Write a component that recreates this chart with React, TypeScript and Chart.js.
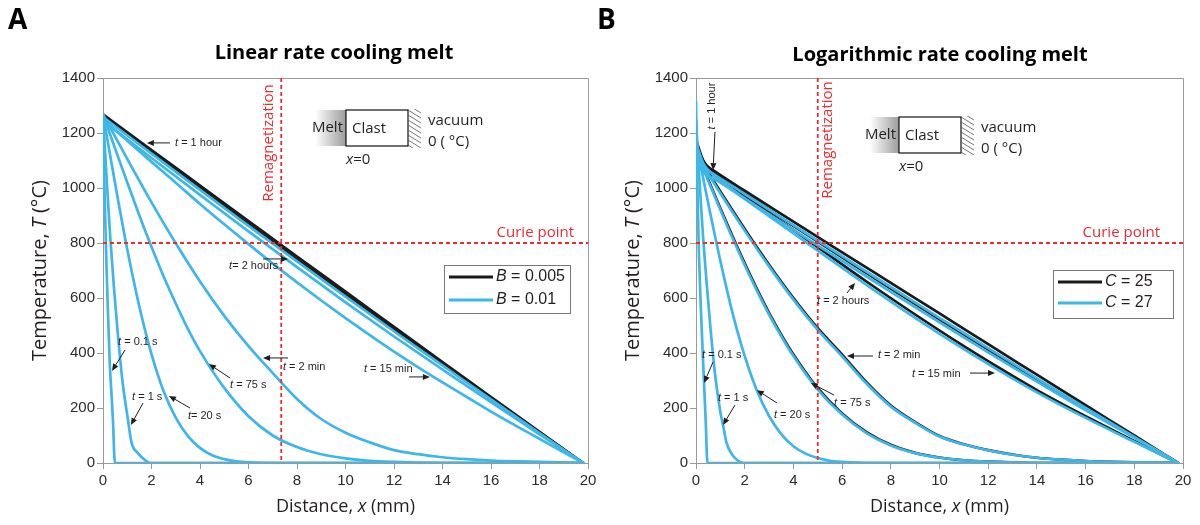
import React, { useEffect, useRef } from "react";
import { Chart, registerables } from "chart.js";

Chart.register(...registerables);

const BLUE = "#3fb6e8";
const BLACK = "#1a1a1a";
const RED = "#ee2b2f";
const AXIS_GRAY = "#9a9a9a";
const TICK_COLOR = "#2b2b2b";
const TEXT = "#231f20";
const SANS = '"Open Sans", "Noto Sans", sans-serif';
const ARIAL = '"Liberation Sans", Arial, sans-serif';

const xTickValues = [0, 2, 4, 6, 8, 10, 12, 14, 16, 18, 20];
const yTickValues = [0, 200, 400, 600, 800, 1000, 1200, 1400];

// ---------------- Panel A: linear rate cooling melt ----------------
// blue: B = 0.01
const A_x_01s = [0, 0.05, 0.1, 0.15, 0.2, 0.28, 0.35, 0.41, 0.49, 19.8];
const A_T_01s = [1268, 1040, 860, 700, 560, 360, 250, 155, 0, 0];
const A_x_1s = [0, 0.1, 0.2, 0.3, 0.45, 0.6, 0.8, 1.03, 1.18, 1.44, 1.73, 1.94, 19.8];
const A_T_1s = [1268, 1110, 960, 820, 640, 480, 300, 157, 73, 36, 11, 0, 0];
const A_x_20s = [0, 0.3, 0.6, 1, 1.5, 2, 2.5, 3, 3.5, 4, 4.5, 5, 5.5, 6, 7, 19.8];
const A_T_20s = [1268, 1116, 966, 777, 568, 396, 261, 165, 98, 55, 28, 14, 6, 2, 0, 0];
const A_x_75s = [0, 0.5, 1, 1.5, 2, 2.5, 3, 3.5, 4, 5, 6, 7, 8, 9, 10, 11, 12, 14, 19.8];
const A_T_75s = [1268, 1143, 1020, 900, 786, 678, 580, 488, 407, 273, 170, 100, 58, 32, 17, 8, 4, 0, 0];
const A_x_2min = [0, 1, 2, 3, 4, 5, 6, 7, 8, 9, 10, 11, 12, 13, 14, 15, 16, 17, 18, 19.8];
const A_T_2min = [1268, 1106, 948, 799, 660, 535, 425, 327, 233, 160, 110, 75, 47, 32, 21, 14, 9, 6, 4, 0];
const A_x_15min = [0, 1, 2, 3, 4, 5, 6, 7, 8, 9, 10, 11, 12, 13, 14, 15, 16, 17, 18, 19, 19.8];
const A_T_15min = [1250, 1172, 1095, 1019, 942, 868, 796, 725, 657, 591, 527, 465, 405, 348, 293, 240, 187, 137, 88, 39, 0];
const A_x_long = [0, 2, 4, 6, 8, 10, 12, 14, 16, 18, 19.8];
const A_T_1h = [1258, 1125, 993, 862, 733, 605, 479, 355, 231, 109, 0];
const A_T_2h = [1245, 1109, 975, 842, 712, 584, 460, 340, 221, 104, 0];
// black: B = 0.005
const A_T_1h_k = [1268, 1138, 1009, 880, 751, 623, 495, 367, 240, 113, 0];
const A_T_2h_k = [1262, 1130, 1000, 870, 741, 613, 486, 360, 235, 111, 0];

// ---------------- Panel B: logarithmic rate cooling melt ----------------
// blue: C = 27
const B_x_01s = [0, 0.03, 0.07, 0.12, 0.2, 0.33, 0.4, 0.47, 19.8];
const B_T_01s = [1314, 1150, 950, 760, 560, 291, 150, 0, 0];
const B_x_1s = [0, 0.1, 0.2, 0.3, 0.45, 0.6, 0.8, 1.0, 1.11, 1.25, 1.45, 1.7, 1.94, 19.8];
const B_T_1s = [1250, 1090, 945, 810, 640, 485, 310, 185, 138, 75, 35, 10, 0, 0];
const B_x_20s = [0, 0.3, 0.6, 1, 1.5, 2, 2.5, 3, 3.5, 4, 4.5, 5, 5.5, 6, 7, 19.8];
const B_T_20s = [1169, 1033, 902, 735, 546, 389, 264, 171, 105, 61, 34, 18, 8, 4, 0, 0];
const B_x_75s = [0, 0.5, 1, 1.5, 2, 2.5, 3, 3.5, 4, 5, 6, 7, 8, 9, 10, 11, 12, 14, 19.8];
const B_T_75s = [1133, 1026, 921, 818, 720, 627, 540, 461, 389, 267, 176, 109, 64, 36, 19, 10, 5, 0, 0];
const B_x_2min = [0, 1, 2, 3, 4, 5, 6, 7, 8, 9, 10, 11, 12, 13, 14, 15, 16, 17, 18, 19.8];
const B_T_2min = [1121, 981, 845, 715, 594, 484, 388, 289, 205, 146, 96, 67, 46, 30, 19, 12, 7, 4, 2, 0];
const B_x_15min = [0, 0.3, 0.7, 1.5, 3, 5, 7, 9, 11, 12.28, 14, 16, 18, 19.8];
const B_T_15min = [1165, 1090, 1048, 992, 898, 772, 648, 528, 414, 345, 257, 164, 77, 0];
const B_x_1h = [0, 0.15, 0.35, 0.7, 2, 4, 6, 8, 10, 12, 14, 16, 18, 19.8];
const B_T_1h = [1150, 1105, 1075, 1052, 978, 865, 752, 640, 528, 418, 308, 200, 95, 0];
const B_x_2h = [0, 0.2, 0.5, 1, 2, 4, 6, 8, 10, 12, 14, 16, 18, 19.8];
const B_T_2h = [1120, 1070, 1045, 1020, 962, 848, 735, 622, 511, 402, 296, 192, 92, 0];
// black: C = 25
const B_T_75s_k = [1138, 1031, 926, 824, 726, 633, 546, 467, 395, 272, 180, 112, 66, 37, 20, 10, 5, 0, 0];
const B_T_2min_k = [1127, 987, 851, 721, 600, 490, 394, 294, 209, 149, 98, 68, 47, 31, 19, 12, 7, 4, 2, 0];
const B_T_15min_k = [1175, 1100, 1060, 1005, 910, 785, 660, 540, 425, 355, 265, 170, 80, 0];
const B_T_1h_k = [1165, 1120, 1088, 1065, 990, 878, 766, 655, 544, 432, 321, 210, 100, 0];
const B_T_2h_k = [1140, 1090, 1060, 1035, 978, 862, 748, 634, 522, 412, 304, 198, 96, 0];

// annotations (data coordinates): text anchor, arrow start, arrow tip
type Part = [string, boolean];
interface Ann { parts: Part[]; tx: number; ty: number; a: [number, number, number, number]; vertical?: boolean }

const A_annotations: Ann[] = [
  { parts: [["t", true], [" = 1 hour", false]], tx: 2.97, ty: 1164, a: [2.76, 1164, 1.81, 1164] },
  { parts: [["t", true], ["= 2 hours", false]], tx: 5.2, ty: 716, a: [6.6, 742, 7.63, 742] },
  { parts: [["t", true], [" = 0.1 s", false]], tx: 0.62, ty: 440, a: [0.91, 411, 0.37, 335] },
  { parts: [["t", true], [" = 1 s", false]], tx: 1.2, ty: 240, a: [1.65, 218, 1.15, 138] },
  { parts: [["t", true], ["= 20 s", false]], tx: 3.5, ty: 171, a: [3.59, 200, 2.72, 244] },
  { parts: [["t", true], [" = 75 s", false]], tx: 5.24, ty: 284, a: [5.24, 309, 4.37, 360] },
  { parts: [["t", true], [" = 2 min", false]], tx: 7.42, ty: 349, a: [7.63, 382, 6.6, 382] },
  { parts: [["t", true], [" = 15 min", false]], tx: 10.76, ty: 342, a: [12.62, 313, 13.48, 313] },
];

const B_annotations: Ann[] = [
  { parts: [["t", true], [" = 1 hour", false]], tx: 0.66, ty: 1298, a: [0.78, 1204, 0.7, 1065], vertical: true },
  { parts: [["t", true], [" = 2 hours", false]], tx: 4.97, ty: 589, a: [6.2, 618, 6.53, 655] },
  { parts: [["t", true], [" = 0.1 s", false]], tx: 0.25, ty: 393, a: [0.7, 367, 0.33, 291] },
  { parts: [["t", true], [" = 1 s", false]], tx: 0.9, ty: 236, a: [1.6, 211, 1.11, 138] },
  { parts: [["t", true], [" = 20 s", false]], tx: 3.2, ty: 175, a: [3.33, 218, 2.5, 265] },
  { parts: [["t", true], [" = 75 s", false]], tx: 5.67, ty: 218, a: [5.67, 247, 4.72, 291] },
  { parts: [["t", true], [" = 2 min", false]], tx: 7.47, ty: 393, a: [7.27, 389, 6.2, 389] },
  { parts: [["t", true], [" = 15 min", false]], tx: 8.87, ty: 324, a: [11.25, 327, 12.28, 327] },
];

const A_legend: { parts: Part[]; color: string }[] = [
  { parts: [["B", true], [" = 0.005", false]], color: BLACK },
  { parts: [["B", true], [" = 0.01", false]], color: BLUE },
];
const B_legend: { parts: Part[]; color: string }[] = [
  { parts: [["C", true], [" = 25", false]], color: BLACK },
  { parts: [["C", true], [" = 27", false]], color: BLUE },
];

const CURIE_T = 800;

interface Curve { xs: number[]; ts: number[]; color: string }

const A_curves: Curve[] = [
  { xs: A_x_long, ts: A_T_1h_k, color: BLACK },
  { xs: A_x_long, ts: A_T_2h_k, color: BLACK },
  { xs: A_x_01s, ts: A_T_01s, color: BLUE },
  { xs: A_x_1s, ts: A_T_1s, color: BLUE },
  { xs: A_x_20s, ts: A_T_20s, color: BLUE },
  { xs: A_x_75s, ts: A_T_75s, color: BLUE },
  { xs: A_x_2min, ts: A_T_2min, color: BLUE },
  { xs: A_x_15min, ts: A_T_15min, color: BLUE },
  { xs: A_x_long, ts: A_T_1h, color: BLUE },
  { xs: A_x_long, ts: A_T_2h, color: BLUE },
];

const B_curves: Curve[] = [
  { xs: B_x_75s, ts: B_T_75s_k, color: BLACK },
  { xs: B_x_2min, ts: B_T_2min_k, color: BLACK },
  { xs: B_x_15min, ts: B_T_15min_k, color: BLACK },
  { xs: B_x_1h, ts: B_T_1h_k, color: BLACK },
  { xs: B_x_2h, ts: B_T_2h_k, color: BLACK },
  { xs: B_x_01s, ts: B_T_01s, color: BLUE },
  { xs: B_x_1s, ts: B_T_1s, color: BLUE },
  { xs: B_x_20s, ts: B_T_20s, color: BLUE },
  { xs: B_x_75s, ts: B_T_75s, color: BLUE },
  { xs: B_x_2min, ts: B_T_2min, color: BLUE },
  { xs: B_x_15min, ts: B_T_15min, color: BLUE },
  { xs: B_x_1h, ts: B_T_1h, color: BLUE },
  { xs: B_x_2h, ts: B_T_2h, color: BLUE },
];

interface PanelCfg {
  letter: string;
  title: string;
  titleCx: number;
  titleCy: number;
  remagX: number;
  remagDx: number;
  remagCy: number;
  curieDx: number;
  diagram: { bx: number; by: number; gw: number };
  legendBox: { x: number; y: number; w: number; h: number; gap: number };
  legend: { parts: Part[]; color: string }[];
  annotations: Ann[];
  curves: Curve[];
  padLeft: number;
  padRight: number;
  canvasLeft: number;
  canvasWidth: number;
}

const panelA: PanelCfg = {
  letter: "A",
  title: "Linear rate cooling melt",
  titleCx: 334,
  titleCy: 53,
  remagX: 7.35,
  remagDx: -13,
  remagCy: 143,
  curieDx: 14,
  diagram: { bx: 346, by: 110, gw: 31 },
  legendBox: { x: 444, y: 265, w: 126, h: 48, gap: 23 },
  legend: A_legend,
  annotations: A_annotations,
  curves: A_curves,
  padLeft: 43,
  padRight: 12,
  canvasLeft: 0,
  canvasWidth: 600,
};

const panelB: PanelCfg = {
  letter: "B",
  title: "Logarithmic rate cooling melt",
  titleCx: 350,
  titleCy: 55,
  remagX: 5,
  remagDx: 10,
  remagCy: 140,
  curieDx: 23,
  diagram: { bx: 309, by: 117, gw: 29 },
  legendBox: { x: 463, y: 270, w: 120, h: 48, gap: 21 },
  legend: B_legend,
  annotations: B_annotations,
  curves: B_curves,
  padLeft: 46,
  padRight: 17,
  canvasLeft: 590,
  canvasWidth: 610,
};

function font(size: number, family: string, italic = false, weight = "normal") {
  return `${italic ? "italic " : ""}${weight} ${size}px ${family}`;
}

function richWidth(ctx: CanvasRenderingContext2D, parts: Part[], size: number, family: string, weight = "normal") {
  let w = 0;
  for (const [t, it] of parts) {
    ctx.font = font(size, family, it, weight);
    w += ctx.measureText(t).width;
  }
  return w;
}

function drawRich(
  ctx: CanvasRenderingContext2D,
  parts: Part[],
  x: number,
  y: number,
  size: number,
  family: string,
  color: string,
  align: "left" | "center" | "right",
  weight = "normal"
) {
  const w = richWidth(ctx, parts, size, family, weight);
  let cx = align === "center" ? x - w / 2 : align === "right" ? x - w : x;
  ctx.fillStyle = color;
  ctx.textAlign = "left";
  ctx.textBaseline = "middle";
  for (const [t, it] of parts) {
    ctx.font = font(size, family, it, weight);
    ctx.fillText(t, cx, y);
    cx += ctx.measureText(t).width;
  }
}

function drawArrow(ctx: CanvasRenderingContext2D, x1: number, y1: number, x2: number, y2: number) {
  const ang = Math.atan2(y2 - y1, x2 - x1);
  const hl = 7;
  const hw = 3;
  const bx = x2 - hl * Math.cos(ang);
  const by = y2 - hl * Math.sin(ang);
  ctx.beginPath();
  ctx.moveTo(x1, y1);
  ctx.lineTo(bx, by);
  ctx.stroke();
  ctx.beginPath();
  ctx.moveTo(x2, y2);
  ctx.lineTo(bx + hw * Math.sin(ang), by - hw * Math.cos(ang));
  ctx.lineTo(bx - hw * Math.sin(ang), by + hw * Math.cos(ang));
  ctx.closePath();
  ctx.fill();
}

function makeDeco(cfg: PanelCfg) {
  return {
    id: "deco" + cfg.letter,
    afterDraw(chart: any) {
      const ctx: CanvasRenderingContext2D = chart.ctx;
      const ca = chart.chartArea;
      const xs = chart.scales.x;
      const ys = chart.scales.y;
      ctx.save();

      // frame top + right
      ctx.strokeStyle = AXIS_GRAY;
      ctx.lineWidth = 1;
      ctx.beginPath();
      const t = Math.round(ca.top) + 0.5;
      const r = Math.round(ca.right) + 0.5;
      ctx.moveTo(ca.left, t);
      ctx.lineTo(r, t);
      ctx.lineTo(r, ca.bottom);
      ctx.stroke();

      // red dashed lines
      ctx.strokeStyle = RED;
      ctx.lineWidth = 1.8;
      ctx.setLineDash([4, 3]);
      const rx = xs.getPixelForValue(cfg.remagX);
      const cy = ys.getPixelForValue(CURIE_T);
      ctx.beginPath();
      ctx.moveTo(rx, ca.top);
      ctx.lineTo(rx, ca.bottom);
      ctx.moveTo(ca.left, cy);
      ctx.lineTo(ca.right, cy);
      ctx.stroke();
      ctx.setLineDash([]);

      // red labels
      ctx.save();
      ctx.translate(rx + cfg.remagDx, cfg.remagCy);
      ctx.rotate(-Math.PI / 2);
      drawRich(ctx, [["Remagnetization", false]], 0, 0, 15, SANS, RED, "center");
      ctx.restore();
      drawRich(ctx, [["Curie point", false]], ca.right - cfg.curieDx, cy - 10, 15, SANS, RED, "right");

      // clast diagram
      const { bx, by, gw } = cfg.diagram;
      const bw = 62;
      const bh = 36;
      const grad = ctx.createLinearGradient(bx - gw, 0, bx, 0);
      grad.addColorStop(0, "rgba(255,255,255,1)");
      grad.addColorStop(1, "#9c9c9c");
      ctx.fillStyle = grad;
      ctx.fillRect(bx - gw, by, gw, bh);
      ctx.fillStyle = "#fff";
      ctx.fillRect(bx, by, bw, bh);
      ctx.strokeStyle = "#111";
      ctx.lineWidth = 1.2;
      ctx.strokeRect(bx, by, bw, bh);
      drawRich(ctx, [["Melt", false]], bx - 3, by + 18, 15, SANS, TEXT, "right");
      drawRich(ctx, [["Clast", false]], bx + 6, by + 19, 15, SANS, TEXT, "left");
      ctx.strokeStyle = "#555";
      ctx.lineWidth = 0.8;
      ctx.save();
      ctx.beginPath();
      ctx.rect(bx + bw, by - 1, 16, bh + 3);
      ctx.clip();
      for (let k = -1; k < 9; k++) {
        const yy = by + k * 5;
        ctx.beginPath();
        ctx.moveTo(bx + bw, yy);
        ctx.lineTo(bx + bw + 13, yy + 8);
        ctx.stroke();
      }
      ctx.restore();
      drawRich(ctx, [["vacuum", false]], bx + 82, by + 11, 15, SANS, TEXT, "left");
      drawRich(ctx, [["0 ( \u00B0C)", false]], bx + 82, by + 32, 15, SANS, TEXT, "left");
      drawRich(ctx, [["x", true], ["=0", false]], bx, by + 50, 15, SANS, TEXT, "left");

      // legend
      const lb = cfg.legendBox;
      ctx.fillStyle = "#fff";
      ctx.fillRect(lb.x, lb.y, lb.w, lb.h);
      ctx.strokeStyle = "#777";
      ctx.lineWidth = 1;
      ctx.strokeRect(lb.x + 0.5, lb.y + 0.5, lb.w, lb.h);
      cfg.legend.forEach((e, i) => {
        const ly = lb.y + 12 + i * lb.gap;
        ctx.strokeStyle = e.color;
        ctx.lineWidth = 3;
        ctx.beginPath();
        ctx.moveTo(lb.x + 5, ly);
        ctx.lineTo(lb.x + 49, ly);
        ctx.stroke();
        drawRich(ctx, e.parts, lb.x + 52, ly, 16, ARIAL, TEXT, "left");
      });

      // annotations
      ctx.strokeStyle = "#1e1e1e";
      ctx.fillStyle = "#1e1e1e";
      ctx.lineWidth = 1;
      for (const a of cfg.annotations) {
        const px = xs.getPixelForValue(a.tx);
        const py = ys.getPixelForValue(a.ty);
        if (a.vertical) {
          ctx.save();
          ctx.translate(px, py);
          ctx.rotate(-Math.PI / 2);
          drawRich(ctx, a.parts, 0, 0, 11, ARIAL, TEXT, "center");
          ctx.restore();
        } else {
          drawRich(ctx, a.parts, px, py, 11, ARIAL, TEXT, "left");
        }
        ctx.strokeStyle = "#1e1e1e";
        ctx.fillStyle = "#1e1e1e";
        drawArrow(
          ctx,
          xs.getPixelForValue(a.a[0]),
          ys.getPixelForValue(a.a[1]),
          xs.getPixelForValue(a.a[2]),
          ys.getPixelForValue(a.a[3])
        );
      }

      // axis titles
      const midX = (ca.left + ca.right) / 2;
      const midY = (ca.top + ca.bottom) / 2;
      drawRich(ctx, [["Distance, ", false], ["x", true], [" (mm)", false]], midX, 507, 18, SANS, TEXT, "center");
      ctx.save();
      ctx.translate(ca.left - 63, midY);
      ctx.rotate(-Math.PI / 2);
      drawRich(ctx, [["Temperature, ", false], ["T", true], [" (\u00B0C)", false]], 0, 0, 20, SANS, TEXT, "center");
      ctx.restore();

      // title and panel letter
      drawRich(ctx, [[cfg.title, false]], cfg.titleCx, cfg.titleCy, 20, SANS, "#000", "center", "bold");
      ctx.font = font(28, SANS, false, "bold");
      ctx.fillStyle = "#000";
      ctx.textAlign = "left";
      ctx.textBaseline = "alphabetic";
      ctx.fillText(cfg.letter, 8 - (cfg.canvasLeft ? 1 : 0), 29);

      ctx.restore();
    },
  };
}

function Panel({ cfg }: { cfg: PanelCfg }) {
  const ref = useRef<HTMLCanvasElement>(null);
  useEffect(() => {
    const datasets = cfg.curves.map((c) => ({
      data: c.xs.map((x, i) => ({ x, y: c.ts[i] })),
      borderColor: c.color,
      backgroundColor: c.color,
      borderWidth: 2.7,
      pointRadius: 0,
      fill: false,
      cubicInterpolationMode: "monotone" as const,
      borderCapStyle: "round" as const,
      borderJoinStyle: "round" as const,
      order: c.color === BLACK ? 2 : 1,
    }));
    const tickFont = { family: ARIAL, size: 15 };
    const chart = new Chart(ref.current as HTMLCanvasElement, {
      type: "line",
      data: { datasets },
      options: {
        animation: false,
        responsive: false,
        maintainAspectRatio: false,
        devicePixelRatio: 1,
        parsing: false as any,
        layout: { padding: { left: cfg.padLeft, right: cfg.padRight, top: 78, bottom: 0 } },
        plugins: { legend: { display: false }, tooltip: { enabled: false }, title: { display: false } },
        scales: {
          x: {
            type: "linear",
            min: 0,
            max: 20,
            afterBuildTicks: (s: any) => {
              s.ticks = xTickValues.map((v) => ({ value: v }));
            },
            afterFit: (s: any) => {
              s.height = 62;
            },
            ticks: {
              font: tickFont,
              color: TICK_COLOR,
              padding: 3,
              maxRotation: 0,
              autoSkip: false,
              callback: (v: any) => String(v),
            },
            grid: { drawOnChartArea: false, drawTicks: true, tickLength: 6, color: AXIS_GRAY },
            border: { color: AXIS_GRAY, width: 1 },
          },
          y: {
            type: "linear",
            min: 0,
            max: 1400,
            afterBuildTicks: (s: any) => {
              s.ticks = yTickValues.map((v) => ({ value: v }));
            },
            afterFit: (s: any) => {
              s.width = 60;
            },
            ticks: {
              font: tickFont,
              color: TICK_COLOR,
              padding: 2,
              autoSkip: false,
              callback: (v: any) => String(v),
            },
            grid: { drawOnChartArea: false, drawTicks: true, tickLength: 6, color: AXIS_GRAY },
            border: { color: AXIS_GRAY, width: 1 },
          },
        },
      },
      plugins: [makeDeco(cfg)],
    });
    return () => chart.destroy();
  }, [cfg]);
  return (
    <canvas
      ref={ref}
      width={cfg.canvasWidth}
      height={525}
      style={{ position: "absolute", left: cfg.canvasLeft, top: 0, width: cfg.canvasWidth, height: 525 }}
    />
  );
}

export default function App() {
  return (
    <div style={{ position: "fixed", left: 0, top: 0, width: 1200, height: 525, background: "#fff", overflow: "hidden" }}>
      <Panel cfg={panelA} />
      <Panel cfg={panelB} />
    </div>
  );
}
